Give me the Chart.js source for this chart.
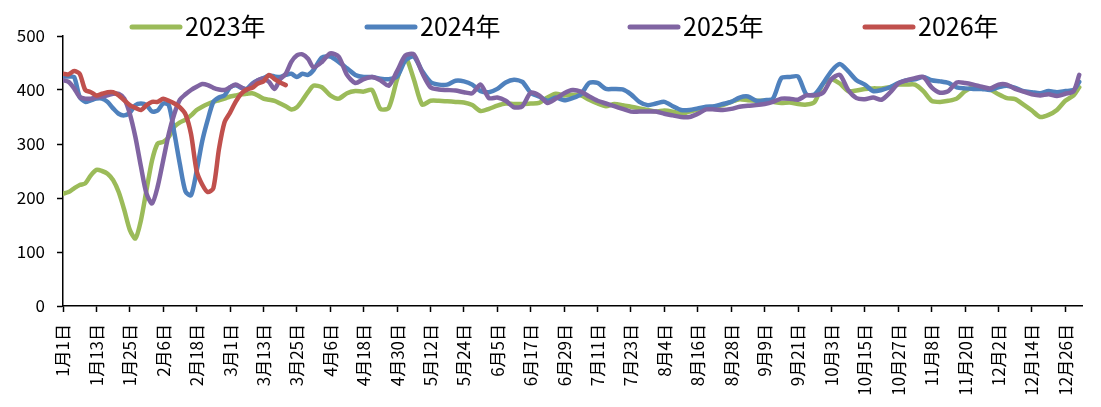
<!DOCTYPE html>
<html>
<head>
<meta charset="utf-8">
<script src="https://cdn.jsdelivr.net/npm/chart.js@4.4.1/dist/chart.umd.min.js"></script>
<style>
html, body { margin: 0; padding: 0; background: #fff; }
#wrap { width: 1101px; height: 407px; }
</style>
</head>
<body>
<div id="wrap"><canvas id="priceChart"></canvas></div>
<script>
// day of year (0 = 1月1日)
const days = [
  0, 2, 4, 6, 8, 10, 12, 14, 16, 18, 20, 22, 24, 26, 28, 30, 32, 34, 36, 38, 40, 42, 44,
  46, 48, 50, 52, 54, 56, 58, 60, 62, 64, 66, 68, 70, 72, 74, 76, 78, 80, 82, 84, 86, 88, 90,
  93, 96, 99, 102, 105, 108, 111, 114, 117, 120, 123, 126, 129, 132,
  135, 138, 141, 144, 147, 150, 153, 156, 159, 162, 165, 168, 171, 174, 177,
  180, 183, 186, 189, 192, 195, 198, 201, 204, 207, 210, 213, 216, 219, 222,
  225, 228, 231, 234, 237, 240, 243, 246, 249, 252, 255, 258, 261, 264, 267,
  270, 273, 276, 279, 282, 285, 288, 291, 294, 297, 300, 303, 306, 309, 312,
  315, 318, 321, 324, 327, 330, 333, 336, 339, 342, 345, 348, 351, 354, 357, 360, 363,
  365
];

const seriesNames = ['2023年', '2024年', '2025年', '2026年'];

const v2023 = [
  208, 211, 218, 224, 227, 242, 252, 250, 245, 233, 211, 178, 141, 125, 159, 215, 270, 301, 304, 313, 332, 340, 345,
  353, 363, 369, 374, 378, 381, 384, 388, 390, 392, 393, 394, 390, 384, 382, 380, 375, 370, 364, 368, 381, 396, 408,
  405, 390, 384, 394, 398, 397, 400, 365, 367, 420, 460, 420, 373, 380,
  380, 379, 378, 377, 372, 361, 365, 371, 375, 374, 374, 375, 376, 386, 393,
  390, 391, 390, 382, 375, 370, 374, 372, 369, 366, 363, 360, 362, 360, 356,
  360, 364, 367, 369, 372, 378, 383, 381, 380, 380, 378, 376, 377, 374, 373,
  378, 412, 420, 412, 398, 399, 402, 403, 403, 405, 410, 410, 410, 398, 380,
  378, 380, 384, 398, 405, 404, 401, 392, 385, 383, 373, 362, 350, 354, 363, 380, 390,
  405
];

const v2024 = [
  425, 425, 424, 387, 378, 381, 384, 384, 378, 366, 356, 353, 358, 372, 375, 372, 360, 362, 375, 372, 320, 262, 212,
  205, 250, 305, 345, 378, 386, 390, 405, 409, 404, 402, 412, 418, 422, 427, 425, 424, 428, 430, 424, 430, 428, 437,
  460, 462, 452, 440, 428, 424, 424, 421, 420, 425, 455, 462, 435, 415,
  410, 410, 417, 416, 410, 398, 396, 402, 414, 419, 415, 395, 388, 380, 386,
  381, 385, 392, 413, 413, 402, 402, 401, 392, 378, 372, 375, 378, 370, 363,
  363, 366, 369, 370, 374, 378, 386, 388, 380, 381, 384, 422, 424, 425, 392,
  392, 412, 435, 448, 435, 418, 410, 398, 400, 405, 413, 418, 420, 424, 418,
  416, 413, 405, 403, 402, 402, 400, 405, 408, 404, 398, 396, 394, 398, 396, 398, 400,
  415
];

const v2025 = [
  418, 415, 403, 387, 384, 384, 387, 388, 390, 393, 393, 384, 356, 313, 258, 208, 190, 221, 270, 319, 356, 382, 392,
  400, 406, 411, 409, 404, 401, 400, 405, 410, 405, 400, 410, 418, 421, 415, 402, 420, 430, 452, 464, 466, 458, 442,
  452, 468, 462, 428, 413, 420, 424, 418, 408, 435, 464, 466, 432, 405,
  401, 400, 399, 396, 394, 410, 385, 386, 380, 368, 370, 395, 390, 376, 384,
  394, 400, 397, 388, 380, 375, 370, 365, 360, 360, 360, 360, 356, 353, 350,
  350, 356, 364, 364, 363, 365, 369, 371, 372, 374, 378, 384, 384, 382, 390,
  390, 395, 420, 428, 400, 385, 383, 386, 382, 395, 412, 418, 422, 424, 405,
  395, 398, 414, 413, 410, 406, 403, 410, 410, 402, 397, 392, 390, 392, 389, 393, 398,
  428
];

// 2026 only runs to late March
const v2026 = [
  430, 429, 435, 430, 400, 396, 390, 393, 396, 396, 390, 381, 372, 367, 363, 372, 378, 378, 384, 380, 375, 368, 355,
  318, 250, 225, 211, 218, 290, 340, 358, 378, 393, 401, 404, 412, 416, 428, 420, 414, 409
];

const tickLabels = [
  '1月1日', '1月13日', '1月25日', '2月6日', '2月18日', '3月1日', '3月13日', '3月25日',
  '4月6日', '4月18日', '4月30日', '5月12日', '5月24日', '6月5日', '6月17日', '6月29日',
  '7月11日', '7月23日', '8月4日', '8月16日', '8月28日', '9月9日', '9月21日', '10月3日',
  '10月15日', '10月27日', '11月8日', '11月20日', '12月2日', '12月14日', '12月26日'
];

const colors = ['#9BBB59', '#4F81BD', '#8064A2', '#C0504D'];
const FONT = "'Noto Sans CJK SC', 'Noto Sans', sans-serif";

function toPoints(vals) {
  return vals.map((v, i) => ({ x: days[i], y: v }));
}

// legend drawn by hand so the items sit where the original has them
const lineLegend = {
  id: 'lineLegend',
  afterDraw(chart) {
    const ctx = chart.ctx;
    const startX = [130, 365, 628, 863];
    ctx.save();
    chart.data.datasets.forEach((ds, i) => {
      const x = startX[i], y = 27;
      ctx.strokeStyle = ds.borderColor;
      ctx.lineWidth = 5;
      ctx.lineCap = 'round';
      ctx.beginPath();
      ctx.moveTo(x + 2, y);
      ctx.lineTo(x + 50, y);
      ctx.stroke();
      ctx.fillStyle = '#000';
      ctx.font = '25px ' + FONT;
      ctx.textBaseline = 'middle';
      ctx.fillText(ds.label, x + 55, y - 1);
    });
    ctx.restore();
  }
};

const allSeries = [v2023, v2024, v2025, v2026];

new Chart(document.getElementById('priceChart'), {
  type: 'line',
  data: {
    datasets: allSeries.map((vals, i) => ({
      label: seriesNames[i],
      data: toPoints(vals),
      borderColor: colors[i],
      backgroundColor: colors[i],
      order: allSeries.length - 1 - i
    }))
  },
  options: {
    responsive: true,
    maintainAspectRatio: false,
    animation: false,
    layout: { padding: { top: 36, right: 19, left: 0, bottom: 0 } },
    plugins: { legend: { display: false }, tooltip: { enabled: false } },
    elements: {
      point: { radius: 0 },
      line: { borderWidth: 4.5, tension: 0.25, borderCapStyle: 'round', borderJoinStyle: 'round' }
    },
    scales: {
      x: {
        type: 'linear',
        min: 0,
        max: 366,
        afterBuildTicks: s => { s.ticks = tickLabels.map((t, i) => ({ value: i * 12 })); },
        afterFit: s => { s.height = 101; },
        grid: { drawOnChartArea: false, tickLength: 6, tickColor: '#000', tickWidth: 1.5 },
        border: { color: '#000', width: 1.5 },
        ticks: {
          autoSkip: false,
          maxRotation: 90,
          minRotation: 90,
          padding: 12,
          color: '#000',
          font: { family: FONT, size: 17 },
          callback: v => tickLabels[Math.round(v / 12)]
        }
      },
      y: {
        min: 0,
        max: 500,
        afterFit: s => { s.width = 63; },
        grid: { drawOnChartArea: false, tickLength: 6, tickColor: '#000', tickWidth: 1.5 },
        border: { color: '#000', width: 1.5 },
        ticks: {
          stepSize: 100,
          padding: 12,
          color: '#000',
          font: { family: FONT, size: 17 }
        }
      }
    }
  },
  plugins: [lineLegend]
});
</script>
</body>
</html>
